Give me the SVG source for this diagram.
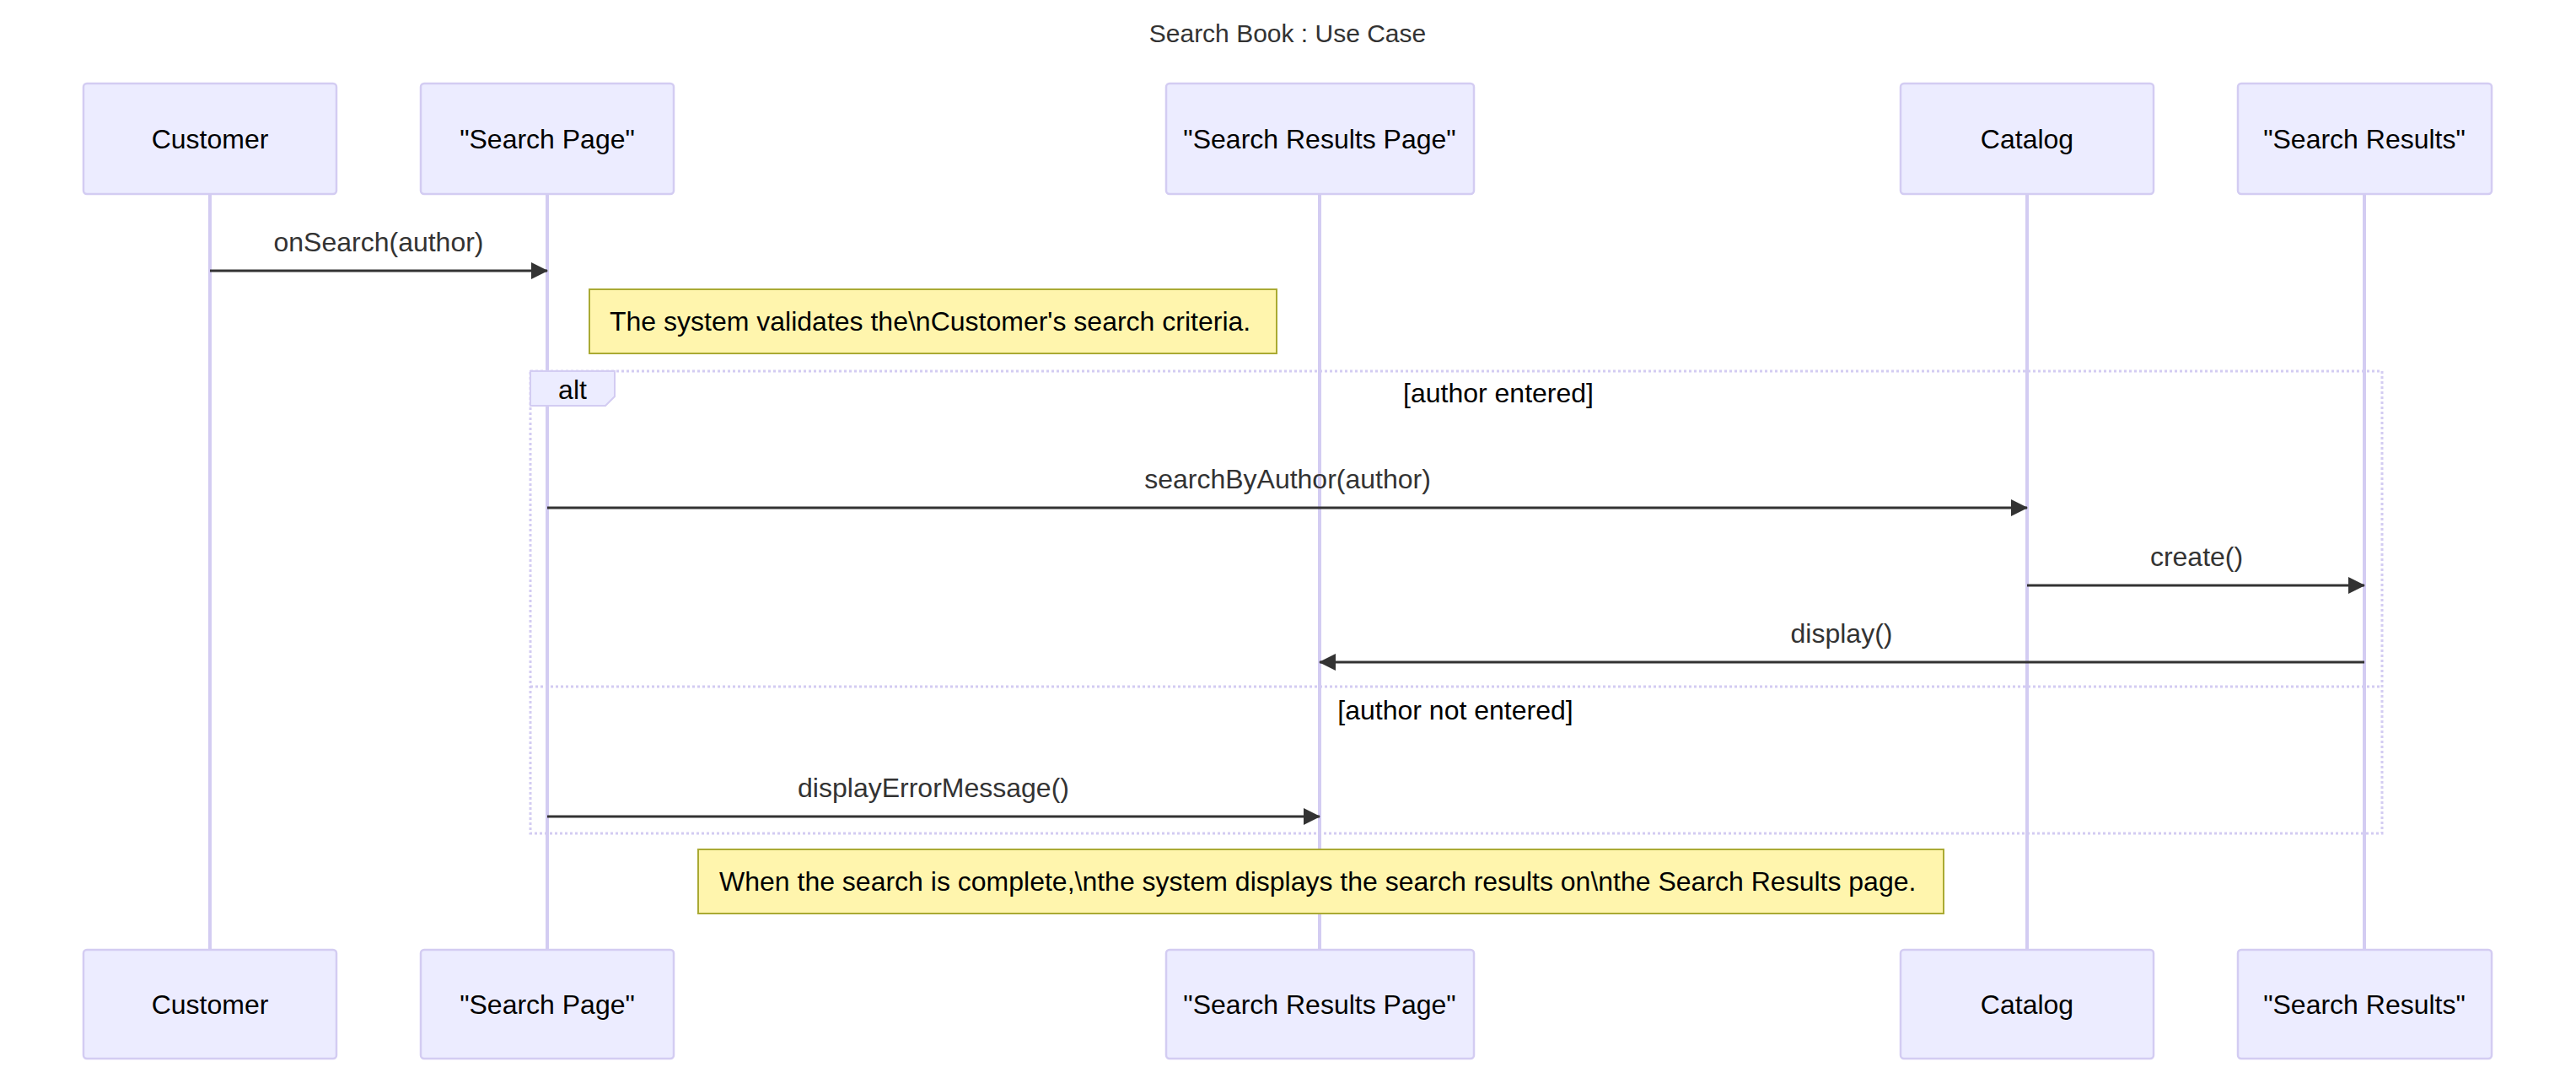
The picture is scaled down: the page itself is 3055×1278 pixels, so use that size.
<svg xmlns="http://www.w3.org/2000/svg" width="3055" height="1278" viewBox="0 0 3055 1278">
<style>
text{font-family:"Liberation Sans",Arial,sans-serif;font-size:32px;fill:#333}
.actor rect{fill:#ECECFF;stroke:#d3ccf2;stroke-width:2.5}
.actor text{fill:#000;text-anchor:middle;dominant-baseline:central}
.life{stroke:#d3ccf2;stroke-width:4}
.msg{stroke:#333;stroke-width:3;fill:none;marker-end:url(#ah)}
.ml{text-anchor:middle}
.note rect{fill:#fff5ad;stroke:#aaaa33;stroke-width:2}
.note text{fill:#000;dominant-baseline:central}
.loop{fill:none;stroke:#d3ccf2;stroke-width:3;stroke-dasharray:3 3}
.lt{fill:#000;text-anchor:middle;dominant-baseline:central}
</style>
<defs>
<marker id="ah" markerWidth="20" markerHeight="20" refX="19" refY="10" orient="auto" markerUnits="userSpaceOnUse" viewBox="0 0 20 20"><path d="M0,0L20,10L0,20z" fill="#333"/></marker>
</defs>
<rect width="3055" height="1278" fill="#fff"/>
<text x="1527" y="39" text-anchor="middle" dominant-baseline="central" style="font-size:30px">Search Book : Use Case</text>
<g id="lifelines">
<line class="life" x1="249" y1="230" x2="249" y2="1126"/>
<line class="life" x1="649" y1="230" x2="649" y2="1126"/>
<line class="life" x1="1565" y1="230" x2="1565" y2="1126"/>
<line class="life" x1="2404" y1="230" x2="2404" y2="1126"/>
<line class="life" x1="2804" y1="230" x2="2804" y2="1126"/>
</g>
<g id="customer" class="actor"><rect x="99" y="99" width="300" height="131" rx="4"/><text x="249" y="165">Customer</text><rect x="99" y="1126" width="300" height="129" rx="4"/><text x="249" y="1191">Customer</text></g>
<g id="searchPage" class="actor"><rect x="499" y="99" width="300" height="131" rx="4"/><text x="649" y="165">"Search Page"</text><rect x="499" y="1126" width="300" height="129" rx="4"/><text x="649" y="1191">"Search Page"</text></g>
<g id="searchResultsPage" class="actor"><rect x="1383" y="99" width="365" height="131" rx="4"/><text x="1565" y="165">"Search Results Page"</text><rect x="1383" y="1126" width="365" height="129" rx="4"/><text x="1565" y="1191">"Search Results Page"</text></g>
<g id="catalog" class="actor"><rect x="2254" y="99" width="300" height="131" rx="4"/><text x="2404" y="165">Catalog</text><rect x="2254" y="1126" width="300" height="129" rx="4"/><text x="2404" y="1191">Catalog</text></g>
<g id="searchResults" class="actor"><rect x="2654" y="99" width="301" height="131" rx="4"/><text x="2804" y="165">"Search Results"</text><rect x="2654" y="1126" width="301" height="129" rx="4"/><text x="2804" y="1191">"Search Results"</text></g>
<g id="alt">
<rect class="loop" x="629" y="440" width="2196" height="548"/>
<line class="loop" x1="629" y1="814" x2="2825" y2="814"/>
<path d="M629,440H729V470L718,481H629z" fill="#ECECFF" stroke="#d3ccf2" stroke-width="2"/>
<text class="lt" x="679" y="462">alt</text>
<text class="lt" x="1777" y="466">[author entered]</text>
<text class="lt" x="1726" y="842">[author not entered]</text>
</g>
<g id="note1" class="note"><rect x="699" y="343" width="815" height="76"/><text x="723" y="381">The system validates the\nCustomer's search criteria.</text></g>
<g id="note2" class="note"><rect x="828" y="1007" width="1477" height="76"/><text x="853" y="1045">When the search is complete,\nthe system displays the search results on\nthe Search Results page.</text></g>
<g id="connectors">
<line class="msg" x1="249" y1="321" x2="649" y2="321"/>
<text class="ml" x="449" y="298">onSearch(author)</text>
<line class="msg" x1="649" y1="602" x2="2404" y2="602"/>
<text class="ml" x="1527" y="579">searchByAuthor(author)</text>
<line class="msg" x1="2404" y1="694" x2="2804" y2="694"/>
<text class="ml" x="2605" y="671">create()</text>
<line class="msg" x1="2804" y1="785" x2="1565" y2="785"/>
<text class="ml" x="2184" y="762">display()</text>
<line class="msg" x1="649" y1="968" x2="1565" y2="968"/>
<text class="ml" x="1107" y="945">displayErrorMessage()</text>
</g>
</svg>
